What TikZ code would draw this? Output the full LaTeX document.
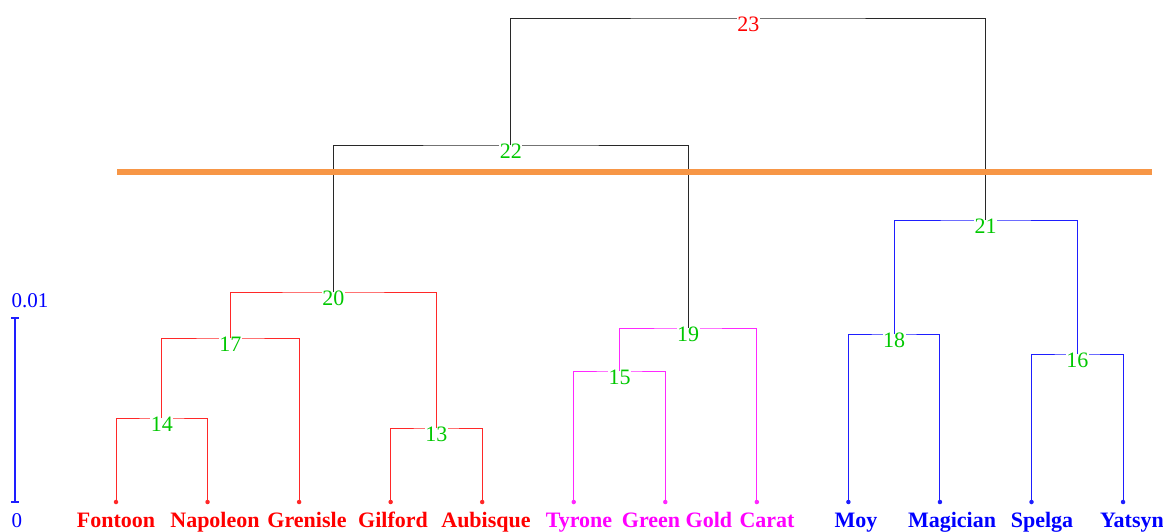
\documentclass[tikz,border=0pt]{standalone}
\usepackage{fontspec}
\setmainfont{Liberation Serif}
\definecolor{numgreen}{RGB}{0,200,0}
\definecolor{cutorange}{RGB}{247,150,70}
\definecolor{clred}{RGB}{255,40,40}
\definecolor{clmag}{RGB}{255,40,255}
\definecolor{clblue}{RGB}{30,30,255}
\definecolor{cltop}{RGB}{40,40,40}
\definecolor{labred}{RGB}{255,0,0}
\definecolor{labmag}{RGB}{255,0,255}
\definecolor{labblue}{RGB}{0,0,255}
\begin{document}
\begin{tikzpicture}[x=1pt,y=-1pt,
  branch/.style={line width=1pt},
  num/.style={font=\fontsize{22}{22}\selectfont, text=numgreen, fill=white, inner sep=0.4pt, yshift=-6.5pt},
  leaflab/.style={font=\fontsize{22}{22}\selectfont\bfseries, anchor=base, inner sep=0pt},
  leafdot/.style={circle, fill, inner sep=0pt, minimum size=4.5pt}]
\useasboundingbox (0,0) rectangle (1163,531);
% leaves
\coordinate (L1) at (116,502);
\coordinate (L2) at (207.55,502);
\coordinate (L3) at (299.1,502);
\coordinate (L4) at (390.65,502);
\coordinate (L5) at (482.2,502);
\coordinate (L6) at (573.75,502);
\coordinate (L7) at (665.3,502);
\coordinate (L8) at (756.85,502);
\coordinate (L9) at (848.4,502);
\coordinate (L10) at (939.95,502);
\coordinate (L11) at (1031.5,502);
\coordinate (L12) at (1123.05,502);
% merges
\coordinate (m14) at (161.8,418);
\coordinate (m13) at (436.4,428);
\coordinate (m17) at (230.45,338);
\coordinate (m20) at (333.4,292);
\coordinate (m15) at (619.5,371);
\coordinate (m19) at (688.2,328);
\coordinate (m18) at (894.2,334);
\coordinate (m16) at (1077.3,354);
\coordinate (m21) at (985.7,220);
\coordinate (m22) at (510.8,145);
\coordinate (m23) at (748.3,18);
% cut line
\coordinate (cutL) at (117,172);
\coordinate (cutR) at (1152,172);
% scale bar
\coordinate (s0) at (15,502);
\coordinate (s1) at (15,318);
\draw[clblue, line width=1.2pt] (s0) -- (s1);
\draw[clblue, line width=1.2pt] ([xshift=-4pt]s0) -- ([xshift=4pt]s0);
\draw[clblue, line width=1.2pt] ([xshift=-4pt]s1) -- ([xshift=4pt]s1);
\node[font=\fontsize{21}{21}\selectfont, text=labblue, inner sep=0pt] (s1lab) at (30,301) {0.01};
\node[font=\fontsize{21}{21}\selectfont, text=labblue, inner sep=0pt] (s0lab) at (17,520.5) {0};
% dots
\foreach \i in {1,...,5} {\node[leafdot, clred] (d\i) at (L\i) {};}
\foreach \i in {6,7,8} {\node[leafdot, clmag] (d\i) at (L\i) {};}
\foreach \i in {9,...,12} {\node[leafdot, clblue] (d\i) at (L\i) {};}
% tree
\draw[branch, clred] (L4) |- (m13) -| (L5);
\node[num] (t13) at (m13) {13};
\draw[branch, clred] (L1) |- (m14) -| (L2);
\node[num] (t14) at (m14) {14};
\draw[branch, clmag] (L6) |- (m15) -| (L7);
\node[num] (t15) at (m15) {15};
\draw[branch, clblue] (L11) |- (m16) -| (L12);
\node[num] (t16) at (m16) {16};
\draw[branch, clred] (m14) |- (m17) -| (L3);
\node[num] (t17) at (m17) {17};
\draw[branch, clblue] (L9) |- (m18) -| (L10);
\node[num] (t18) at (m18) {18};
\draw[branch, clmag] (m15) |- (m19) -| (L8);
\node[num] (t19) at (m19) {19};
\draw[branch, clred] (m17) |- (m20) -| (m13);
\node[num] (t20) at (m20) {20};
\draw[branch, clblue] (m18) |- (m21) -| (m16);
\node[num] (t21) at (m21) {21};
\draw[branch, cltop, line width=0.8pt] (m20) |- (m22) -| (m19);
\node[num] (t22) at (m22) {22};
\draw[branch, cltop, line width=0.8pt] (m22) |- (m23) -| (m21);
\node[num, text=labred] (t23) at (m23) {23};
% cut line on top
\draw[cutorange, line width=5.5pt] (cutL) -- (cutR);
% leaf labels
\node[leaflab, text=labred] (n1) at (116,527) {Fontoon};
\node[leaflab, text=labred] (n2) at (215,527) {Napoleon};
\node[leaflab, text=labred] (n3) at (307,527) {Grenisle};
\node[leaflab, text=labred] (n4) at (393,527) {Gilford};
\node[leaflab, text=labred] (n5) at (486,527) {Aubisque};
\node[leaflab, text=labmag] (n6) at (579,527) {Tyrone};
\node[leaflab, text=labmag] (n7) at (677,527) {Green Gold};
\node[leaflab, text=labmag] (n8) at (767,527) {Carat};
\node[leaflab, text=labblue] (n9) at (856,527) {Moy};
\node[leaflab, text=labblue] (n10) at (952,527) {Magician};
\node[leaflab, text=labblue] (n11) at (1042,527) {Spelga};
\node[leaflab, text=labblue] (n12) at (1132,527) {Yatsyn};
\end{tikzpicture}
\end{document}
